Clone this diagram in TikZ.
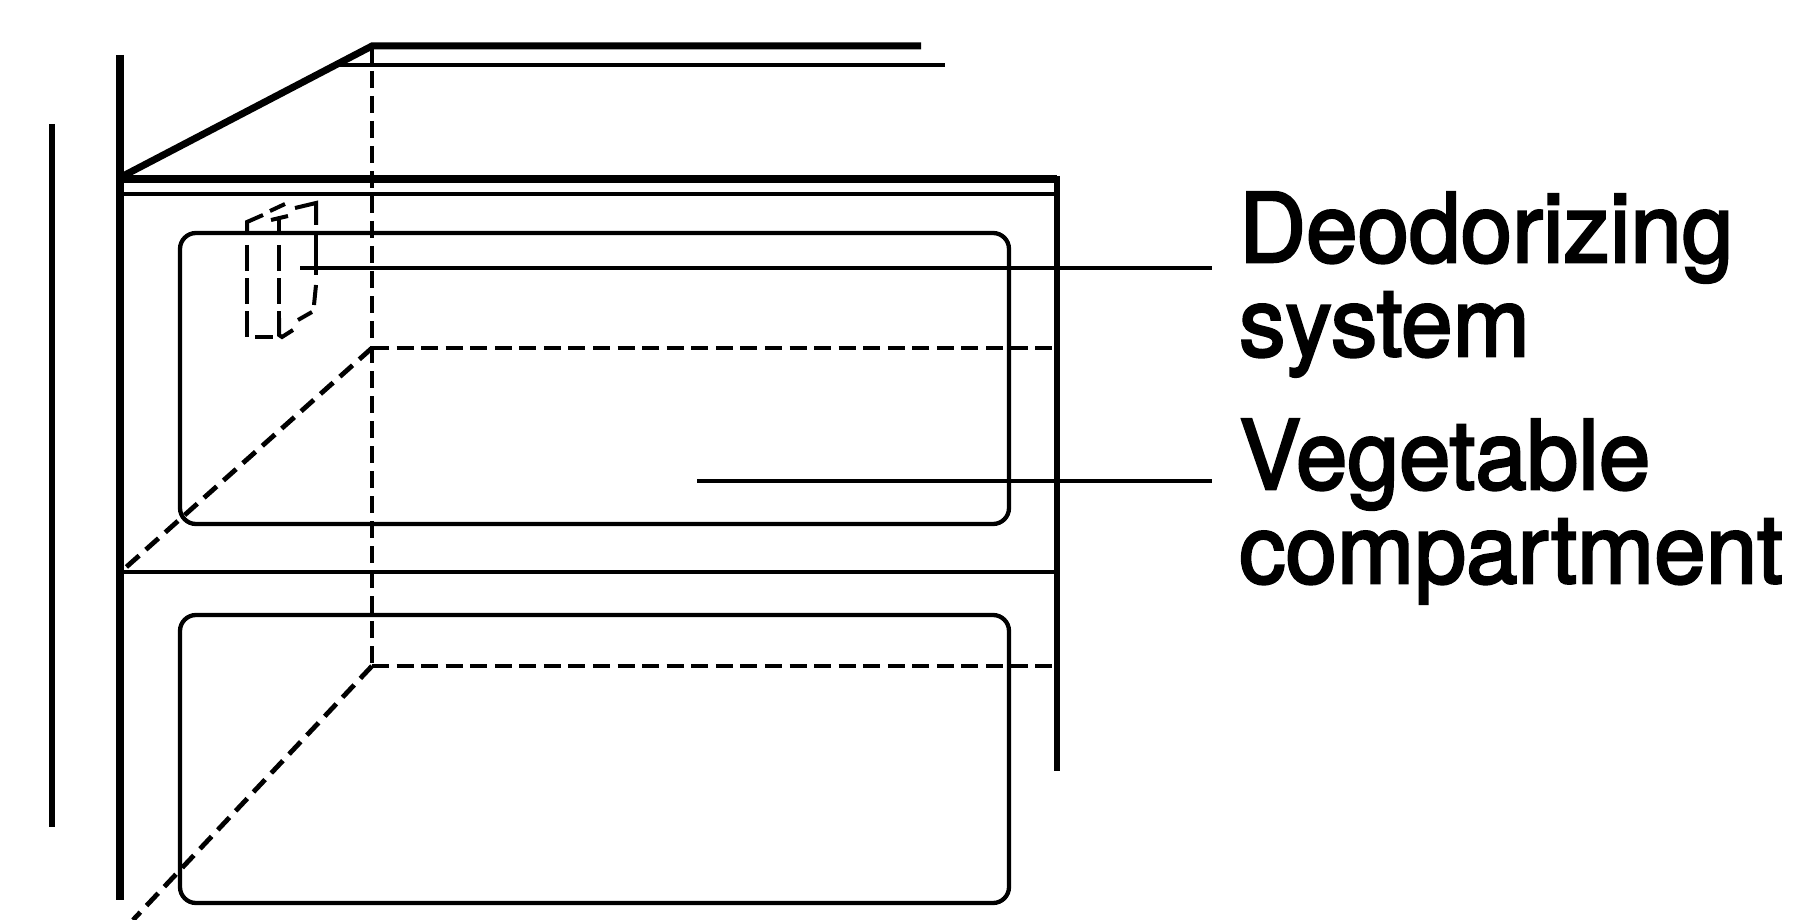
\documentclass[tikz,border=0pt]{standalone}
\usepackage{fontspec}
\setmainfont[RawFeature={embolden=2.6}]{TeX Gyre Heros}
\tikzset{
  thick line/.style={line width=7.5pt},
  mid line/.style={line width=6pt},
  thin line/.style={line width=4.3pt},
  hidden line/.style={line width=4.5pt,dash pattern=on 17pt off 8pt},
  hidden across/.style={line width=4.5pt,dash pattern=on 17pt off 7.56pt},
  hidden slant/.style={line width=4.8pt,dash pattern=on 17pt off 9pt},
  hidden small/.style={line width=4pt,dash pattern=on 26pt off 7pt},
  unit piece/.style={line width=4pt},
  drawer/.style={line width=4.3pt,rounded corners=16pt},
  label text/.style={anchor=base west,inner sep=0pt,font=\fontsize{96}{96}\selectfont,xscale=0.965},
}
\begin{document}
\begin{tikzpicture}[x=1pt,y=-1pt]
\useasboundingbox[fill=white] (0,0) rectangle (1805,920);
% reference points
\coordinate (tl) at (120,179);
\coordinate (tr) at (1057,179);
\coordinate (back) at (372,46);
\coordinate (backm) at (372,348);
\coordinate (backb) at (372,666);
% walls
\draw[mid line] (52,124) -- (52,827);
\draw[line width=8pt] (120,55) -- (120,900);
\draw[mid line] (1057,176) -- (1057,771);
\draw[thick line] (tl) -- (tr);
\draw[thin line] (120,194) -- (1057,194);
\draw[thin line] (120,572) -- (1057,572);
\draw[line width=7pt] (123,176) -- (back) -- (921,46);
\draw[thin line] (338,65) -- (945,65);
% hidden edges
\draw[hidden line] (back) -- (backb);
\draw[hidden across] (backb) -- (1052,666);
\draw[hidden across] (backm) -- (1052,348);
\draw[hidden slant] (backm) -- (123,570);
\draw[hidden slant] (backb) -- (133,920);
% drawers
\draw[drawer] (180,233) rectangle (1009,524);
\draw[drawer] (180,615) rectangle (1009,903);
% deodorizing unit
\draw[hidden small] (247,245) -- (247,337);
\draw[hidden small] (279,245) -- (279,318);
\draw[unit piece] (247,231) -- (247,222) -- (263,215);
\draw[unit piece] (270,211) -- (285,204);
\draw[unit piece] (295,208) -- (316,203) -- (316,225);
\draw[unit piece] (271,220) -- (288,216);
\draw[unit piece] (279,218) -- (279,231);
\draw[unit piece] (255,337) -- (273,337);
\draw[unit piece] (279,318) -- (279,335) -- (282,337) -- (293,330);
\draw[unit piece] (298,320) -- (312,312);
\draw[unit piece] (316,235) -- (316,275);
\draw[unit piece] (316,285) -- (314,305);
% labels and leaders
\node[label text] (deo) at (1239,262) {Deodorizing};
\node[label text] (sys) at (1239,356) {system};
\node[label text] (veg) at (1239,489) {Vegetable};
\node[label text] (com) at (1239,583) {compartment};
\coordinate (deoend) at (1212,268);
\coordinate (vegend) at (1212,481);
\coordinate (deotip) at (300,268);
\coordinate (vegtip) at (697,481);
\draw[thin line] (deotip) -- (deoend);
\draw[thin line] (vegtip) -- (vegend);
\end{tikzpicture}
\end{document}
